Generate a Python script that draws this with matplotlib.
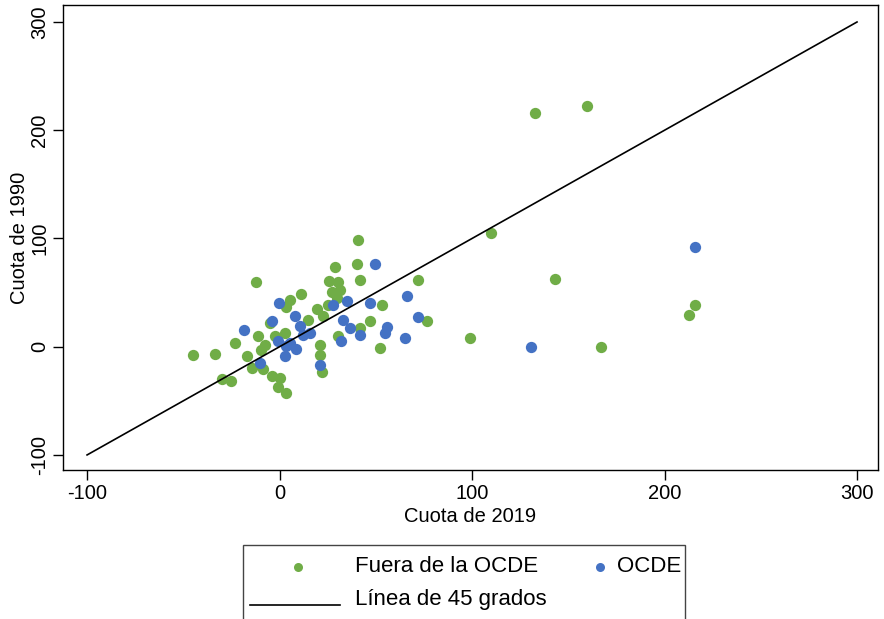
import matplotlib.pyplot as plt
from matplotlib.patches import Rectangle
from matplotlib.lines import Line2D
import numpy as np

plt.rcParams['font.family'] = ['Liberation Sans', 'DejaVu Sans']
plt.rcParams['axes.unicode_minus'] = False

# Fuera de la OCDE (green)
fuera_x = [40.9, 29, 40, 41.7, -12, 25.6, 30.5, 72, 11.4, 5.4, 27, 31.3, 29.6, 3.6,
           19.2, 25.3, 22.7, 53, 15, 47, 76.4, -5, -11, -7.6, -23, -45, -33.6, -17,
           -14.5, -8.5, -30, -25, -4, 0, -0.7, 3.6, 21, 21, 21.8, 30.5, 41.7, 52,
           2.8, -2.4, -9.4,
           132.5, 159.5, 110, 143, 98.7, 166.8, 215.6, 212.5]
fuera_y = [98.4, 74, 76, 62, 60, 61, 60, 62, 49, 43.5, 51, 52.8, 45, 37,
           35, 39, 28, 39, 25, 23.5, 23.5, 22, 9.5, 2, 3, -7.4, -6.8, -9,
           -19.5, -21, -30, -32, -27.5, -29, -37, -43, 2, -7.4, -23, 9.5, 17, -1,
           12.7, 9.5, -3,
           215.7, 222, 104.6, 63, 8.3, 0, 39, 29.6]

# OCDE (blue)
ocde_x = [49.5, 66, 72, -0.3, 27.9, 34.8, 47, 8, -4, -18.3, 33, 36.5, 10.5, 15.7,
          12.3, 41.7, 55.6, 54.7, 65, 32, -1, 5.4, 8.8, 2.8, -10, 21, 3.6,
          216, 130.5]
ocde_y = [76, 47, 27.5, 40.4, 39, 42, 40.4, 28, 23.5, 15, 25, 17, 19, 12.7,
          11, 11, 18, 12.7, 8, 5, 5, 3.4, -2, -9, -15, -16.7, 0.3,
          92, 0]

linea = [-100, 300]

green = '#70AD47'
blue = '#4472C4'

W, H = 884, 619
fig = plt.figure(figsize=(W/100, H/100), dpi=100)
ax = fig.add_axes([63/W, 1-470/H, (878-63)/W, (470-5)/H])

ax.scatter(fuera_x, fuera_y, s=66, color=green, linewidths=0, zorder=2)
ax.scatter(ocde_x, ocde_y, s=66, color=blue, linewidths=0, zorder=2)
ax.plot(linea, linea, color='black', lw=1.2, zorder=3)

ax.set_xlim(-112.5, 310.9)
ax.set_ylim(-113.9, 315.7)
ax.set_xticks([-100, 0, 100, 200, 300])
ax.set_yticks([-100, 0, 100, 200, 300])
ax.tick_params(labelsize=14.5, length=7, width=1, pad=3)
for lab in ax.get_yticklabels():
    lab.set_rotation(90)
    lab.set_va('center')
for s in ax.spines.values():
    s.set_linewidth(1)
ax.set_xlabel('Cuota de 2019', fontsize=14.5, labelpad=3)
ax.set_ylabel('Cuota de 1990', fontsize=14.5, labelpad=1)

# legend box (drawn by hand, Stata style), partly cut at the bottom
def fx(px):
    return px / W

def fy(py):
    return 1 - py / H

fig.patches.append(Rectangle((fx(243), fy(645)), fx(685) - fx(243), fy(545) - fy(645),
                             transform=fig.transFigure, fill=False,
                             edgecolor='#444444', lw=1))
fig.lines.append(Line2D([fx(298)], [fy(567)], transform=fig.transFigure,
                        marker='o', markersize=6.5, color=green, mew=0, ls='none'))
fig.lines.append(Line2D([fx(600)], [fy(567)], transform=fig.transFigure,
                        marker='o', markersize=6.5, color=blue, mew=0, ls='none'))
fig.lines.append(Line2D([fx(250), fx(340)], [fy(605), fy(605)],
                        transform=fig.transFigure, color='black', lw=1.2))
fig.text(fx(355), fy(567), 'Fuera de la OCDE', fontsize=16, va='center')
fig.text(fx(617), fy(567), 'OCDE', fontsize=16, va='center')
fig.text(fx(355), fy(600), 'Línea de 45 grados', fontsize=16, va='center')

fig.savefig('out.png', dpi=100)
